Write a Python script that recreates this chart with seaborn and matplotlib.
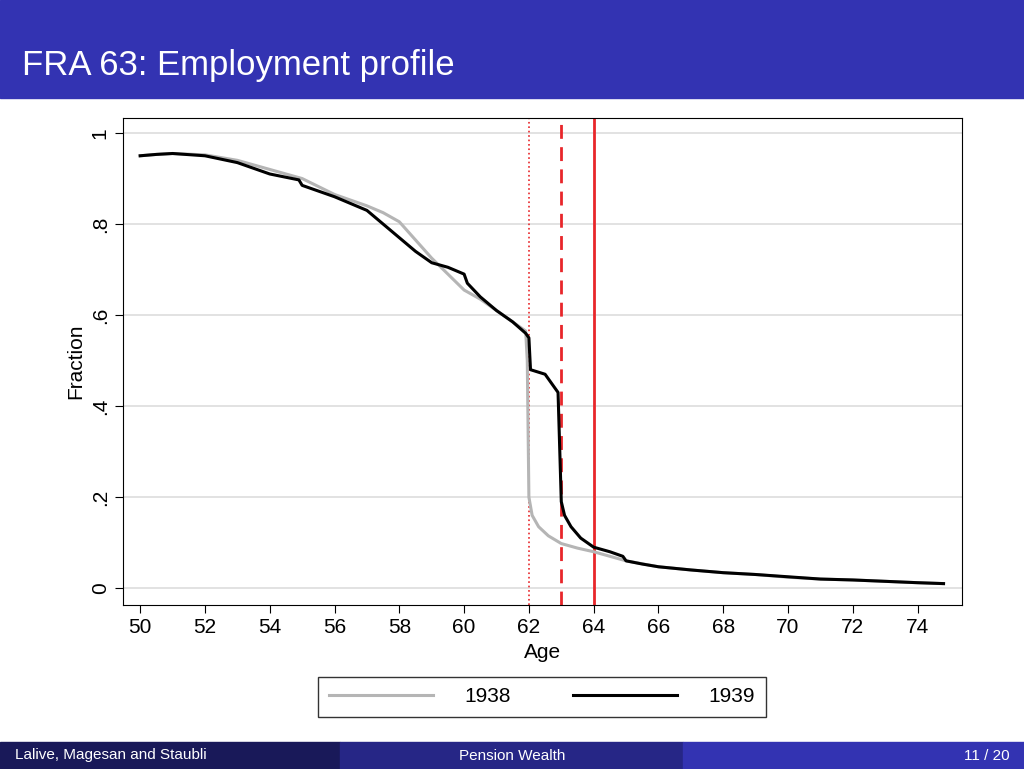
import matplotlib
matplotlib.use("Agg")
import matplotlib.pyplot as plt
import pandas as pd
import seaborn as sns

age_1938 = [50, 50.5, 51, 52, 53, 54, 55, 56, 57, 57.5, 58, 58.5, 59, 59.5, 60, 60.5, 61, 61.5, 61.9, 61.95, 62.0, 62.1, 62.3, 62.6, 63, 63.5, 64, 65, 66, 67, 68, 69, 70, 71, 72, 73, 74, 74.8]
frac_1938 = [0.95, 0.953, 0.955, 0.952, 0.94, 0.92, 0.90, 0.865, 0.84, 0.825, 0.805, 0.765, 0.725, 0.69, 0.655, 0.635, 0.61, 0.585, 0.565, 0.50, 0.20, 0.16, 0.135, 0.115, 0.098, 0.088, 0.08, 0.06, 0.047, 0.04, 0.034, 0.03, 0.024, 0.02, 0.018, 0.015, 0.012, 0.01]
age_1939 = [50, 50.5, 51, 52, 53, 54, 54.9, 55.0, 56, 57, 57.5, 58, 58.5, 59, 59.5, 60, 60.1, 60.5, 61, 61.5, 61.9, 62.0, 62.05, 62.5, 62.9, 63.0, 63.1, 63.3, 63.6, 64, 64.5, 64.9, 65.0, 65.5, 66, 67, 68, 69, 70, 71, 72, 73, 74, 74.8]
frac_1939 = [0.95, 0.953, 0.955, 0.95, 0.935, 0.91, 0.897, 0.885, 0.86, 0.83, 0.80, 0.77, 0.74, 0.715, 0.705, 0.69, 0.67, 0.64, 0.61, 0.585, 0.56, 0.55, 0.48, 0.47, 0.43, 0.19, 0.16, 0.135, 0.11, 0.09, 0.08, 0.07, 0.06, 0.053, 0.047, 0.04, 0.034, 0.03, 0.025, 0.02, 0.018, 0.015, 0.012, 0.01]
x_ticks = list(range(50, 75, 2))
y_ticks = [0, 0.2, 0.4, 0.6, 0.8, 1]
y_labels = ["0", ".2", ".4", ".6", ".8", "1"]

df = pd.concat([
    pd.DataFrame({"Age": age_1938, "Fraction": frac_1938, "cohort": "1938"}),
    pd.DataFrame({"Age": age_1939, "Fraction": frac_1939, "cohort": "1939"}),
])

plt.rcParams["font.family"] = "Liberation Sans"
fig = plt.figure(figsize=(10.24, 7.69), dpi=100)

# header and footer bars
fig.patches.append(plt.Rectangle((0, 1 - 98 / 769), 1, 98 / 769, transform=fig.transFigure, color="#3333B2", zorder=0))
fig.text(22 / 1024, 1 - 65 / 769, "FRA 63: Employment profile", color="white", fontsize=25, va="center")
fb = 27 / 769
for x0, w, c in [(0, 340, "#191959"), (340, 343, "#262686"), (683, 341, "#3333B2")]:
    fig.patches.append(plt.Rectangle((x0 / 1024, 0), w / 1024, fb, transform=fig.transFigure, color=c, zorder=0))
fig.text(15 / 1024, fb / 2, "Lalive, Magesan and Staubli", color="white", fontsize=11, va="center")
fig.text(512 / 1024, fb / 2, "Pension Wealth", color="white", fontsize=11, va="center", ha="center")
fig.text(1010 / 1024, fb / 2, "11 / 20", color="white", fontsize=11, va="center", ha="right")

ax = fig.add_axes([123 / 1024, 1 - 605 / 769, 839 / 1024, 487 / 769])
for y in y_ticks:
    ax.axhline(y, color="#dddddd", lw=1.2, zorder=0)
ax.axvline(62, color="#e8262a", lw=1.2, ls=":")
ax.axvline(63, color="#e8262a", lw=2, ls=(0, (5, 3)))
ax.axvline(64, color="#e8262a", lw=2)
sns.lineplot(data=df, x="Age", y="Fraction", hue="cohort", palette={"1938": "#b5b5b5", "1939": "black"},
             lw=2.2, ax=ax, legend=False, estimator=None, sort=False)
ax.set_xlim(49.47, 75.37)
ax.set_ylim(-0.037, 1.033)
ax.set_xticks(x_ticks)
ax.set_yticks(y_ticks, y_labels, rotation=90, va="center")
ax.tick_params(labelsize=15, length=6, color="black")
ax.set_xlabel("Age", fontsize=15)
ax.set_ylabel("Fraction", fontsize=15)
for s in ax.spines.values():
    s.set_color("black")

h = [plt.Line2D([], [], color="#b5b5b5", lw=2.2), plt.Line2D([], [], color="black", lw=2.2)]
fig.legend(h, ["1938", "1939"], loc="center", bbox_to_anchor=(542 / 1024, 1 - 697 / 769), ncol=2,
           fontsize=15, frameon=True, fancybox=False, edgecolor="black", handlelength=5, columnspacing=3,
           handletextpad=1.5, borderpad=0.5)

fig.savefig("out.png", dpi=100)
